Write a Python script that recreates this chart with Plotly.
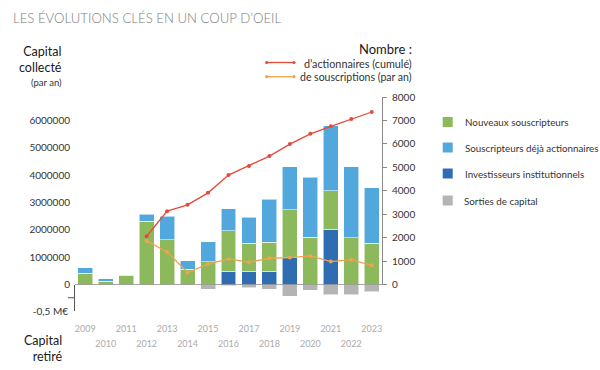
import plotly.graph_objects as go

# ---------------- data ----------------
years = [str(y) for y in range(2009, 2024)]
institutionnels = [0, 0, 0, 0, 0, 0, 0, 490000, 490000, 490000, 970000, 0, 2010000, 0, 0]
nouveaux = [410000, 120000, 330000, 2320000, 1630000, 560000, 840000, 1470000, 1010000,
            1060000, 1760000, 1730000, 1410000, 1700000, 1510000]
deja_actionnaires = [210000, 90000, 0, 240000, 860000, 310000, 720000, 810000, 960000,
                     1570000, 1580000, 2190000, 2380000, 2600000, 2020000]
sorties = [0, 0, 0, 0, 0, 0, -89000, -25000, -62000, -89000, -226000, -113000, -194000, -194000, -138000]
actionnaires_cumul = [None, None, None, 2060, 3130, 3400, 3910, 4670, 5060, 5480, 5990, 6430, 6750, 7060, 7360]
souscriptions = [None, None, None, 1860, 1390, 510, 870, 1090, 950, 1120, 1150, 1220, 980, 1060, 820]

left_ticks = [0, 1000000, 2000000, 3000000, 4000000, 5000000, 6000000]
right_ticks = [0, 1000, 2000, 3000, 4000, 5000, 6000, 7000, 8000]

bar_names = ["Nouveaux souscripteurs", "Souscripteurs déjà actionnaires",
             "Investisseurs institutionnels", "Sorties de capital"]
line_names = ["d’actionnaires (cumulé)", "de souscriptions (par an)"]

C_GREEN = "#8cb95b"
C_LBLUE = "#52a8dc"
C_DBLUE = "#2e6db2"
C_GRAY = "#b4b4b4"
C_RED = "#e64a3b"
C_ORANGE = "#f3a24c"

FONT = "Lato"

# ---------------- geometry ----------------
L, R, T, B = 75, 382, 97, 311
W, H = R - L, B - T
ZERO_PX = 284.5
d0 = (B - ZERO_PX) / H


def px2x(px):
    return (px - L) / W


def py2y(py):
    return (B - py) / H


fig = go.Figure()
edge = dict(color="rgba(255,255,255,0.55)", width=1)

fig.add_trace(go.Bar(x=years, y=institutionnels, name=bar_names[2], marker=dict(color=C_DBLUE, line=edge),
                     xaxis="x", yaxis="y", showlegend=False))
fig.add_trace(go.Bar(x=years, y=nouveaux, name=bar_names[0], marker=dict(color=C_GREEN, line=edge),
                     xaxis="x", yaxis="y", showlegend=False))
fig.add_trace(go.Bar(x=years, y=deja_actionnaires, name=bar_names[1], marker=dict(color=C_LBLUE, line=edge),
                     xaxis="x", yaxis="y", showlegend=False))
fig.add_trace(go.Bar(x=years, y=sorties, name=bar_names[3], marker=dict(color=C_GRAY, line=edge),
                     xaxis="x", yaxis="y3", showlegend=False))

fig.add_trace(go.Scatter(x=years, y=actionnaires_cumul, name=line_names[0], mode="lines+markers",
                         line=dict(color=C_RED, width=1.3), marker=dict(color=C_RED, size=4),
                         xaxis="x", yaxis="y2", showlegend=False, connectgaps=False))
fig.add_trace(go.Scatter(x=years, y=souscriptions, name=line_names[1], mode="lines+markers",
                         line=dict(color=C_ORANGE, width=1.3), marker=dict(color=C_ORANGE, size=4),
                         xaxis="x", yaxis="y2", showlegend=False, connectgaps=False))

# second x axis for the staggered (even-year) labels
fig.add_trace(go.Scatter(x=years, y=[None] * len(years), xaxis="x2", yaxis="y3",
                         showlegend=False, hoverinfo="skip"))

odd_years = [y for y in years if int(y) % 2 == 1]
even_years = [y for y in years if int(y) % 2 == 0]

tick_font = dict(family=FONT, size=10, color="#333333")
xt_font = dict(family=FONT, size=9, color="#ababab")

fig.update_layout(
    width=600, height=370,
    paper_bgcolor="white", plot_bgcolor="white",
    margin=dict(l=L, r=600 - R, t=T, b=370 - B, autoexpand=False),
    barmode="stack", bargap=0.27,
    font=dict(family=FONT, color="#333333"),
    xaxis=dict(type="category", range=[-0.5, 14.5], anchor="y3", tickvals=odd_years,
               ticktext=odd_years, ticks="", showline=False, showgrid=False, zeroline=False,
               tickfont=xt_font, ticklabelstandoff=11),
    xaxis2=dict(type="category", matches="x", overlaying="x", anchor="y3", tickvals=even_years,
                ticktext=even_years, ticks="", showline=False, showgrid=False, zeroline=False,
                tickfont=xt_font, ticklabelstandoff=26),
    yaxis=dict(domain=[d0, 1], range=[0, 6850000], tickvals=left_ticks,
               ticktext=[str(v) for v in left_ticks], showgrid=False, zeroline=False,
               showline=False, ticks="", tickfont=tick_font, ticklabelstandoff=4),
    yaxis2=dict(domain=[d0, 1], overlaying="y", side="right", range=[0, 8000], tickvals=right_ticks,
                showgrid=False, zeroline=False, showline=True, linecolor="#8a8a8a", linewidth=1,
                ticks="outside", ticklen=4, tickcolor="#8a8a8a", tickfont=tick_font,
                ticklabelstandoff=3),
    yaxis3=dict(domain=[0, d0], range=[-500000, 0], tickvals=[-500000], ticktext=["-0,5 M€"],
                showgrid=False, zeroline=False, showline=True, linecolor="#555555", linewidth=1,
                ticks="inside", ticklen=6, tickcolor="#555555", tickfont=tick_font,
                ticklabelstandoff=4),
)

shapes = [
    # zero line
    dict(type="line", xref="paper", yref="y", x0=0, x1=1, y0=0, y1=0,
         line=dict(color="#555555", width=1), layer="above"),
    # small outside tick on the "capital retiré" axis
    dict(type="line", xref="paper", yref="y3", x0=px2x(68), x1=0, y0=-250000, y1=-250000,
         line=dict(color="#555555", width=1)),
]

# line legend samples (top)
for col, ypx in [(C_RED, 62.5), (C_ORANGE, 76.7)]:
    shapes.append(dict(type="line", xref="paper", yref="paper", x0=px2x(266.7), x1=px2x(294),
                       y0=py2y(ypx), y1=py2y(ypx), line=dict(color=col, width=1.3)))
    for xp in (266.7, 294):
        shapes.append(dict(type="circle", xref="paper", yref="paper",
                           x0=px2x(xp - 1.6), x1=px2x(xp + 1.6), y0=py2y(ypx + 1.6), y1=py2y(ypx - 1.6),
                           fillcolor=col, line=dict(width=0)))

# bar legend squares (right)
legend_rows = [(C_GREEN, 122), (C_LBLUE, 147.5), (C_DBLUE, 173.5), (C_GRAY, 200.5)]
for col, ypx in legend_rows:
    shapes.append(dict(type="rect", xref="paper", yref="paper", x0=px2x(442.7), x1=px2x(452.7),
                       y0=py2y(ypx + 5), y1=py2y(ypx - 5), fillcolor=col, line=dict(width=0)))

annotations = [
    dict(text="LES ÉVOLUTIONS CLÉS EN UN COUP D’OEIL", x=px2x(10.5), y=py2y(18.3), xanchor="left",
         yanchor="middle", font=dict(family=FONT, size=13.2, color="#7d7d7d", weight=300)),
    dict(text="Capital<br>collecté", x=px2x(63.5), y=py2y(60), xanchor="right", yanchor="middle",
         align="right", font=dict(family=FONT, size=12.5, color="#1a1a1a")),
    dict(text="(par an)", x=px2x(63.5), y=py2y(82), xanchor="right", yanchor="middle",
         font=dict(family=FONT, size=9.5, color="#333333")),
    dict(text="Capital<br>retiré", x=px2x(64.5), y=py2y(348), xanchor="right", yanchor="middle",
         align="right", font=dict(family=FONT, size=12.5, color="#1a1a1a")),
    dict(text="Nombre :", x=px2x(414), y=py2y(49), xanchor="right", yanchor="middle",
         font=dict(family=FONT, size=13, color="#1a1a1a")),
    dict(text=line_names[0], x=px2x(414), y=py2y(63.3), xanchor="right", yanchor="middle",
         font=dict(family=FONT, size=10.8, color="#333333")),
    dict(text=line_names[1], x=px2x(414), y=py2y(76.7), xanchor="right", yanchor="middle",
         font=dict(family=FONT, size=10.5, color="#333333")),
]
for name, (col, ypx) in zip(bar_names, legend_rows):
    annotations.append(dict(text=name, x=px2x(462.5), y=py2y(ypx), xanchor="left", yanchor="middle",
                            font=dict(family=FONT, size=9.8, color="#333333")))

for a in annotations:
    a.update(xref="paper", yref="paper", showarrow=False)

fig.update_layout(shapes=shapes, annotations=annotations)

# remove the browser's default 8px page margin so the 600x370 figure fills the window
fig.write_html("out.html", config={"displayModeBar": False},
               post_script="document.body.style.margin='0px';")
